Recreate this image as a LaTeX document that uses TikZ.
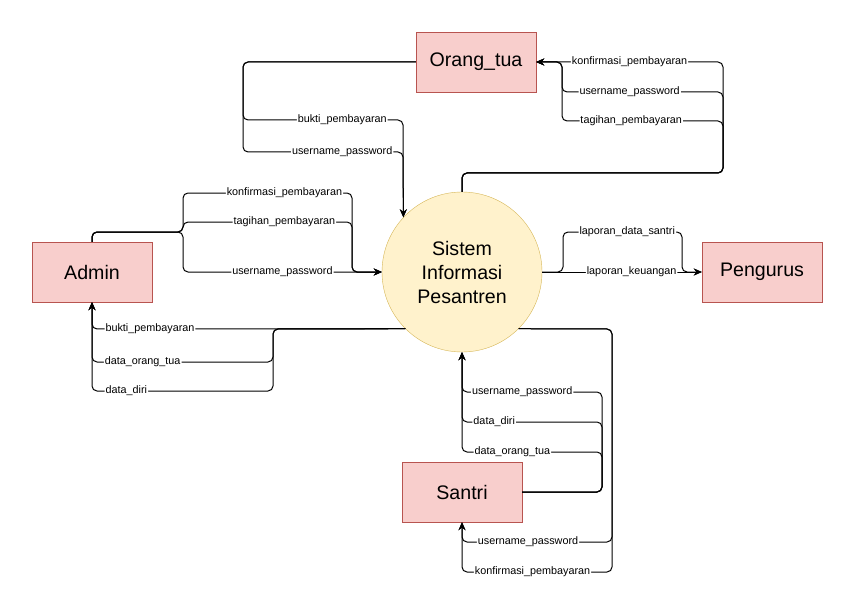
\documentclass[tikz,border=0pt]{standalone}
\usepackage{fontspec}
\setmainfont{Liberation Sans}
\usepackage{xcolor}
\usetikzlibrary{arrows.meta}
\definecolor{boxfill}{HTML}{F8CECC}
\definecolor{boxline}{HTML}{B85450}
\definecolor{procfill}{HTML}{FFF2CC}
\definecolor{procline}{HTML}{D6B656}

\begin{document}
\begin{tikzpicture}[x=1pt, y=-1pt,
    entity/.style={draw=boxline, fill=boxfill, minimum width=120pt, minimum height=60pt, font=\fontsize{19.6}{24}\selectfont},
    proc/.style={circle, draw=procline, fill=procfill, minimum size=160pt, inner sep=0pt, align=center, font=\fontsize{19.6}{24}\selectfont},
    flow/.style={line width=1pt, rounded corners=5pt, -{Stealth[length=8pt, width=7pt]}},
    lbl/.style={fill=white, inner sep=1pt, font=\fontsize{10.8}{12}\selectfont}]
    \useasboundingbox (0,0) rectangle (845,604);

    % Entities and process
    \node[proc] (sis) at (462,272) {Sistem\\Informasi\\Pesantren};
    \node[entity] (ortu) at (476,62) {Orang\_tua};
    \node[entity] (admin) at (92,272) {Admin};
    \node[entity] (pengurus) at (762,272) {Pengurus};
    \node[entity] (santri) at (462,492) {Santri};

    % Orang_tua to system
    \draw[flow] (ortu.west) -- (243,62) -- (243,120) -- node[lbl, pos=0.62] {bukti\_pembayaran} (403,120) -- (sis.137.5);
    \draw[flow] (ortu.west) -- (243,62) -- (243,152) -- node[lbl, pos=0.62] {username\_password} (403,152) -- (sis.137.5);

    % System to Orang_tua
    \draw[flow] (sis.north) -- (462,173) -- (723,173) -- (723,62) -- node[lbl, pos=0.5] {konfirmasi\_pembayaran} (ortu.east);
    \draw[flow] (sis.north) -- (462,173) -- (723,173) -- (723,92) -- node[lbl, pos=0.58] {username\_password} (562,92) -- (562,62) -- (ortu.east);
    \draw[flow] (sis.north) -- (462,173) -- (723,173) -- (723,121) -- node[lbl, pos=0.57] {tagihan\_pembayaran} (562,121) -- (562,62) -- (ortu.east);

    % Admin to system
    \draw[flow] (admin.north) -- (92,232) -- (183,232) -- (183,193) -- node[lbl, pos=0.6] {konfirmasi\_pembayaran} (352,193) -- (352,272) -- (sis.west);
    \draw[flow] (admin.north) -- (92,232) -- (183,232) -- (183,222) -- node[lbl, pos=0.6] {tagihan\_pembayaran} (352,222) -- (352,272) -- (sis.west);
    \draw[flow] (admin.north) -- (92,232) -- (183,232) -- (183,272) -- node[lbl, pos=0.5] {username\_password} (sis.west);

    % System to Admin
    \draw[flow] (sis.225.5) -- node[lbl, pos=0.815] {bukti\_pembayaran} (92,329) -- (admin.south);
    \draw[flow] (sis.225.5) -- (273,329) -- (273,362) -- node[lbl, pos=0.72] {data\_orang\_tua} (92,362) -- (admin.south);
    \draw[flow] (sis.225.5) -- (273,329) -- (273,391) -- node[lbl, pos=0.81] {data\_diri} (92,391) -- (admin.south);

    % System to Pengurus
    \draw[flow] (sis.east) -- (563,272) -- (563,232) -- node[lbl, pos=0.54] {laporan\_data\_santri} (682,232) -- (682,272) -- (pengurus.west);
    \draw[flow] (sis.east) -- node[lbl, pos=0.56] {laporan\_keuangan} (pengurus.west);

    % Santri to system
    \draw[flow] (santri.east) -- (602,492) -- (602,392) -- node[lbl, pos=0.57] {username\_password} (462,392) -- (sis.south);
    \draw[flow] (santri.east) -- (602,492) -- (602,422) -- node[lbl, pos=0.77] {data\_diri} (462,422) -- (sis.south);
    \draw[flow] (santri.east) -- (602,492) -- (602,452) -- node[lbl, pos=0.64] {data\_orang\_tua} (462,452) -- (sis.south);

    % System to Santri
    \draw[flow] (sis.-45.5) -- (612,329) -- (612,542) -- node[lbl, pos=0.56] {username\_password} (462,542) -- (santri.south);
    \draw[flow] (sis.-45.5) -- (612,329) -- (612,572) -- node[lbl, pos=0.53] {konfirmasi\_pembayaran} (462,572) -- (santri.south);
\end{tikzpicture}
\end{document}
